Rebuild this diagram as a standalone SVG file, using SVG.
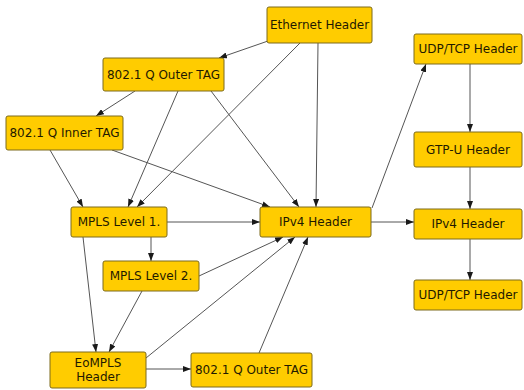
<svg xmlns="http://www.w3.org/2000/svg" width="524" height="390" viewBox="0 0 524 390">
<defs>
<marker id="arr" markerWidth="8" markerHeight="6" refX="8" refY="3" orient="auto" markerUnits="userSpaceOnUse">
<path d="M0,0 L8,3 L0,6 z" fill="#1a1a1a"/>
</marker>
<style>
.n rect{fill:#FFCC00;stroke:#7d6b1c;stroke-width:1}
.n text{font-family:"DejaVu Sans",sans-serif;font-size:12px;fill:#1f1a00;text-anchor:middle;dominant-baseline:central}
#edges line{stroke:#555;stroke-width:1;marker-end:url(#arr)}
</style>
</defs>
<rect width="524" height="390" fill="#fff"/>
<g id="edges">
<line x1="268" y1="41" x2="219" y2="58"/>
<line x1="300" y1="43" x2="137" y2="207"/>
<line x1="318" y1="43" x2="316" y2="207"/>
<line x1="135" y1="91" x2="96" y2="116"/>
<line x1="178" y1="91" x2="128" y2="207"/>
<line x1="211" y1="91" x2="299" y2="207"/>
<line x1="50" y1="150" x2="83" y2="207"/>
<line x1="112" y1="150" x2="270" y2="207"/>
<line x1="167" y1="222" x2="260" y2="222"/>
<line x1="151" y1="237" x2="151" y2="261"/>
<line x1="83" y1="237" x2="96" y2="352"/>
<line x1="199" y1="276" x2="283" y2="237"/>
<line x1="142" y1="291" x2="109" y2="352"/>
<line x1="146" y1="358" x2="295" y2="237"/>
<line x1="146" y1="369" x2="191" y2="369"/>
<line x1="259" y1="353" x2="308" y2="237"/>
<line x1="372" y1="208" x2="426" y2="64"/>
<line x1="371" y1="222" x2="414" y2="222"/>
<line x1="470" y1="64" x2="470" y2="132"/>
<line x1="470" y1="167" x2="470" y2="209"/>
<line x1="470" y1="239" x2="470" y2="280"/>
</g>
<g id="ethernet" class="n"><rect x="267" y="7" width="105" height="36" rx="2"/><text x="319.5" y="25">Ethernet Header</text></g>
<g id="outer1" class="n"><rect x="103" y="58" width="121" height="33" rx="2"/><text x="163.5" y="74.5">802.1 Q Outer TAG</text></g>
<g id="inner" class="n"><rect x="6" y="116" width="117" height="34" rx="2"/><text x="64.5" y="133">802.1 Q Inner TAG</text></g>
<g id="mpls1" class="n"><rect x="71" y="207" width="96" height="30" rx="2"/><text x="119" y="222">MPLS Level 1.</text></g>
<g id="mpls2" class="n"><rect x="103" y="261" width="96" height="30" rx="2"/><text x="151" y="276">MPLS Level 2.</text></g>
<g id="eompls" class="n"><rect x="50" y="352" width="96" height="36" rx="2"/><text x="98" y="363">EoMPLS</text><text x="98" y="377">Header</text></g>
<g id="outer2" class="n"><rect x="191" y="353" width="121" height="34" rx="2"/><text x="251.5" y="370">802.1 Q Outer TAG</text></g>
<g id="ipv4a" class="n"><rect x="260" y="207" width="111" height="30" rx="2"/><text x="315.5" y="222">IPv4 Header</text></g>
<g id="udp1" class="n"><rect x="414" y="34" width="108" height="30" rx="2"/><text x="468" y="49">UDP/TCP Header</text></g>
<g id="gtpu" class="n"><rect x="414" y="132" width="108" height="35" rx="2"/><text x="468" y="149.5">GTP-U Header</text></g>
<g id="ipv4b" class="n"><rect x="414" y="209" width="108" height="30" rx="2"/><text x="468" y="224">IPv4 Header</text></g>
<g id="udp2" class="n"><rect x="414" y="280" width="108" height="30" rx="2"/><text x="468" y="295">UDP/TCP Header</text></g>
</svg>
